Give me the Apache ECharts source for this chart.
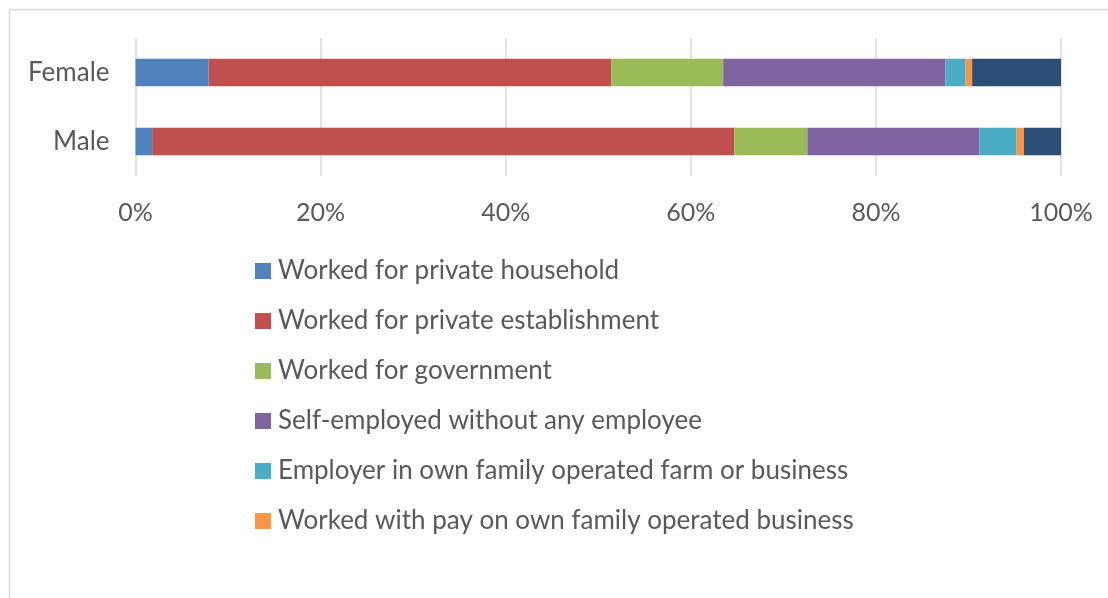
<!DOCTYPE html>
<html>
<head>
<meta charset="utf-8">
<script src="https://cdn.jsdelivr.net/npm/echarts@6/dist/echarts.min.js"></script>
<style>
html,body{margin:0;padding:0;background:#fff;}
#chart{width:1108px;height:598px;}
</style>
</head>
<body>
<div id="chart"></div>
<script>
const categories = ['Female', 'Male'];
const seriesNames = [
  'Worked for private household',
  'Worked for private establishment',
  'Worked for government',
  'Self-employed without any employee',
  'Employer in own family operated farm or business',
  'Worked with pay on own family operated business',
  'Worked without pay on own family operated farm or business'
];
const privateHousehold = [7.9, 1.8];
const privateEstablishment = [43.5, 62.9];
const government = [12.1, 7.9];
const selfEmployed = [24.0, 18.6];
const employer = [2.2, 4.0];
const withPayFamily = [0.7, 0.8];
const withoutPayFamily = [9.6, 4.0];
const colors = ['#4f81bd', '#c0504d', '#9bbb59', '#8064a2', '#4bacc6', '#f79646', '#2c4d75'];
const xTicks = [0, 20, 40, 60, 80, 100];

const values = [privateHousehold, privateEstablishment, government, selfEmployed, employer, withPayFamily, withoutPayFamily];

const chart = echarts.init(document.getElementById('chart'));
const font = 'Lato, "Open Sans", sans-serif';
chart.setOption({
  animation: false,
  color: colors,
  graphic: [{
    type: 'rect', silent: true, z: -1,
    shape: { x: 9.5, y: 9.5, width: 1300, height: 800 },
    style: { fill: 'none', stroke: '#d9d9d9', lineWidth: 1.5 }
  }],
  grid: { left: 135.5, right: 47, top: 38, bottom: 422, containLabel: false },
  xAxis: {
    type: 'value', min: xTicks[0], max: xTicks[xTicks.length - 1], interval: 20,
    axisLine: { show: false }, axisTick: { show: false },
    splitLine: { lineStyle: { color: '#d9d9d9', width: 1.5 } },
    axisLabel: { formatter: '{value}%', color: '#595959', fontSize: 25, fontFamily: font, margin: 24 }
  },
  yAxis: {
    type: 'category', data: categories, inverse: true,
    axisLine: { show: false }, axisTick: { show: false },
    axisLabel: { color: '#595959', fontSize: 26, fontFamily: font, margin: 26 }
  },
  legend: {
    orient: 'vertical', left: 250, top: 253,
    data: seriesNames.slice(0, 6),
    itemWidth: 16, itemHeight: 16, itemGap: 24,
    icon: 'rect',
    textStyle: { color: '#595959', fontSize: 26, fontFamily: font, lineHeight: 24, padding: [0, 0, 0, 2] }
  },
  series: seriesNames.map((name, i) => ({
    name, type: 'bar', stack: 'total', data: values[i],
    barWidth: 27.5,
    itemStyle: { color: colors[i] }
  }))
});
</script>
</body>
</html>
